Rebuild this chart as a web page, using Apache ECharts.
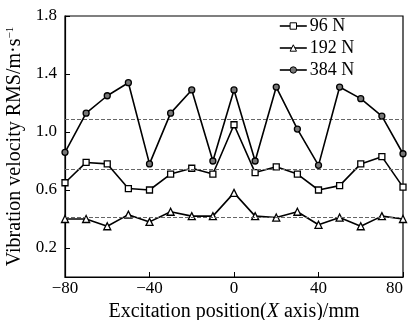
<!DOCTYPE html>
<html>
<head>
<meta charset="utf-8">
<script src="https://cdn.jsdelivr.net/npm/echarts@6/dist/echarts.min.js"></script>
<style>
  html, body { margin: 0; padding: 0; background: #fff; }
  #chart { width: 408px; height: 320px; }
</style>
</head>
<body>
<div id="chart"></div>
<script>
// Excitation positions along the X axis (mm)
const positions = [-80, -70, -60, -50, -40, -30, -20, -10, 0, 10, 20, 30, 40, 50, 60, 70, 80];

// Vibration velocity RMS (m/s) for each excitation force
const seriesNames = ['96 N', '192 N', '384 N'];
const rms96 = [0.65, 0.79, 0.78, 0.61, 0.60, 0.71, 0.75, 0.71, 1.05, 0.72, 0.76, 0.71, 0.60, 0.63, 0.78, 0.83, 0.62];
const rms192 = [0.40, 0.40, 0.35, 0.43, 0.38, 0.45, 0.42, 0.42, 0.58, 0.42, 0.41, 0.45, 0.36, 0.41, 0.35, 0.42, 0.40];
const rms384 = [0.86, 1.13, 1.25, 1.34, 0.78, 1.13, 1.29, 0.80, 1.29, 0.80, 1.31, 1.02, 0.77, 1.31, 1.23, 1.11, 0.85];

// Average level of each series (dashed reference lines)
const meanLevels = [0.74, 0.41, 1.09];

// Axis tick values
const xTicks = [-80, -40, 0, 40, 80];
const yTicks = [0.2, 0.6, 1.0, 1.4, 1.8];

const FONT = 'Liberation Serif';
const symbols = ['rect', 'triangle', 'circle'];
const symbolFills = ['#fff', '#fff', '#777'];
const symbolSizes = [6, 7, 6];
const allValues = [rms96, rms192, rms384];

const chart = echarts.init(document.getElementById('chart'), null, { renderer: 'canvas' });

const series = seriesNames.map((name, i) => ({
  name: name,
  type: 'line',
  data: positions.map((x, k) => [x, allValues[i][k]]),
  symbol: symbols[i],
  symbolSize: symbolSizes[i],
  lineStyle: { color: '#000', width: 1.6 },
  itemStyle: { color: symbolFills[i], borderColor: '#000', borderWidth: 1.3 },
  z: 3 + i,
  animation: false,
  markLine: {
    silent: true,
    symbol: 'none',
    label: { show: false },
    lineStyle: { color: '#666', type: [4, 2], width: 1.2 },
    data: [{ yAxis: meanLevels[i] }],
    animation: false
  }
}));

chart.setOption({
  animation: false,
  backgroundColor: '#fff',
  grid: {
    left: 65, right: 5, top: 16, bottom: 43,
    containLabel: false,
    outerBoundsMode: 'none',
    show: true, borderColor: '#000', borderWidth: 1.2
  },
  legend: {
    orient: 'vertical',
    left: 279,
    top: 17,
    padding: 0,
    itemWidth: 27,
    itemHeight: 8,
    itemGap: 4,
    textStyle: { fontFamily: FONT, fontSize: 18, color: '#000', padding: [0, 0, 0, -2] },
    data: seriesNames.map((n, i) => ({ name: n, itemStyle: { color: symbolFills[i], borderColor: '#000', borderWidth: 1 }, lineStyle: { color: '#000', width: 1.6 } }))
  },
  xAxis: {
    type: 'value',
    min: -80,
    max: 80,
    name: '{t|Excitation position(}{i|X}{t| axis)/mm}',
    nameLocation: 'middle',
    nameGap: 20,
    nameTextStyle: {
      rich: {
        t: { fontFamily: FONT, fontSize: 20, color: '#000' },
        i: { fontFamily: FONT, fontSize: 20, color: '#000', fontStyle: 'italic' }
      }
    },
    axisLine: { onZero: false, lineStyle: { color: '#000', width: 1.2 } },
    axisTick: { inside: true, length: 5, customValues: xTicks, lineStyle: { color: '#000' } },
    axisLabel: {
      customValues: xTicks,
      margin: 3,
      alignMaxLabel: 'right',
      fontFamily: FONT, fontSize: 17, color: '#000',
      formatter: v => (v < 0 ? '\u2212' + Math.abs(v) : String(v))
    },
    splitLine: { show: false }
  },
  yAxis: {
    type: 'value',
    min: 0,
    max: 1.8,
    name: '{t|Vibration velocity RMS/m\u00b7s}{s|\u22121}',
    nameLocation: 'middle',
    nameGap: 39,
    nameTextStyle: {
      rich: {
        t: { fontFamily: FONT, fontSize: 20, color: '#000' },
        s: { fontFamily: FONT, fontSize: 11, color: '#000', verticalAlign: 'top', padding: [0, 0, 9, 0] }
      }
    },
    axisLine: { show: true, onZero: false, lineStyle: { color: '#000', width: 1.2 } },
    axisTick: { show: true, inside: true, length: 5, customValues: yTicks, lineStyle: { color: '#000' } },
    axisLabel: {
      customValues: yTicks,
      margin: 8,
      fontFamily: FONT, fontSize: 17, color: '#000',
      formatter: v => v.toFixed(1)
    },
    splitLine: { show: false }
  },
  series: series
});
</script>
</body>
</html>
